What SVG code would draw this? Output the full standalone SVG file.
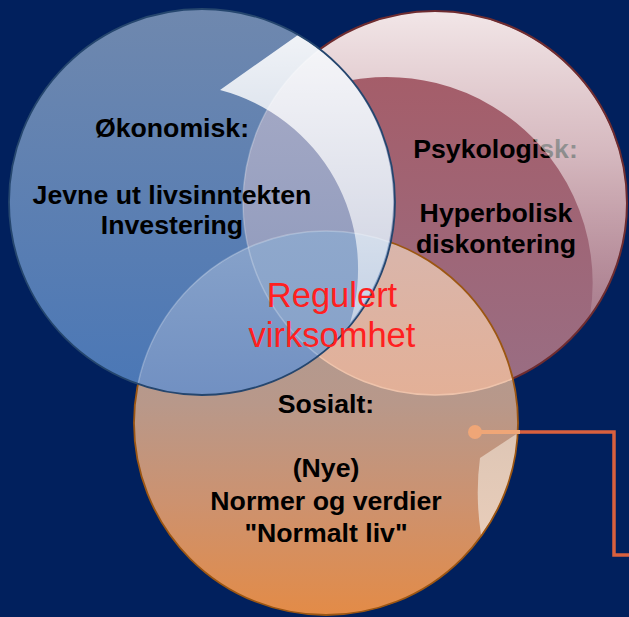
<svg xmlns="http://www.w3.org/2000/svg" width="629" height="617" viewBox="0 0 629 617">
  <defs>
    <style>
      .lbl { font-family: "Liberation Sans", Arial, sans-serif; font-weight: bold; font-size: 26.7px; fill: #000; text-anchor: middle; }
      .ctr { font-family: "Liberation Sans", Arial, sans-serif; font-size: 34.5px; fill: #ff2020; text-anchor: middle; }
    </style>
    <linearGradient id="gBlue" gradientUnits="userSpaceOnUse" x1="0" y1="9" x2="0" y2="396">
      <stop offset="0" stop-color="#6f88ae"/>
      <stop offset="1" stop-color="#4a77b6"/>
    </linearGradient>
    <linearGradient id="gBR" gradientUnits="userSpaceOnUse" x1="0" y1="10" x2="0" y2="396">
      <stop offset="0" stop-color="#abaec8"/>
      <stop offset="1" stop-color="#8794b9"/>
    </linearGradient>
    <linearGradient id="gBO" gradientUnits="userSpaceOnUse" x1="0" y1="231" x2="0" y2="396">
      <stop offset="0" stop-color="#88a3ca"/>
      <stop offset="1" stop-color="#7190c2"/>
    </linearGradient>
    <linearGradient id="gBRO" gradientUnits="userSpaceOnUse" x1="0" y1="231" x2="0" y2="396">
      <stop offset="0" stop-color="#8fa8cc"/>
      <stop offset="1" stop-color="#84a0c8"/>
    </linearGradient>
    <linearGradient id="gRed" gradientUnits="userSpaceOnUse" x1="0" y1="11" x2="0" y2="395">
      <stop offset="0" stop-color="#a75a64"/>
      <stop offset="1" stop-color="#996e84"/>
    </linearGradient>
    <linearGradient id="gRedHi" gradientUnits="userSpaceOnUse" x1="0" y1="11" x2="0" y2="330">
      <stop offset="0" stop-color="#ffffff" stop-opacity="0.85"/>
      <stop offset="0.45" stop-color="#ffffff" stop-opacity="0.55"/>
      <stop offset="0.8" stop-color="#ffffff" stop-opacity="0.25"/>
      <stop offset="1" stop-color="#ffffff" stop-opacity="0.1"/>
    </linearGradient>
    <linearGradient id="gOrange" gradientUnits="userSpaceOnUse" x1="0" y1="231" x2="0" y2="615">
      <stop offset="0" stop-color="#aa9c98"/>
      <stop offset="0.45" stop-color="#b8988a"/>
      <stop offset="0.7" stop-color="#cc9270"/>
      <stop offset="1" stop-color="#e38b47"/>
    </linearGradient>
    <linearGradient id="gRO" gradientUnits="userSpaceOnUse" x1="0" y1="231" x2="0" y2="395">
      <stop offset="0" stop-color="#d8b6ad"/>
      <stop offset="1" stop-color="#e3b097"/>
    </linearGradient>
    <linearGradient id="gBand" gradientUnits="userSpaceOnUse" x1="0" y1="35" x2="0" y2="323">
      <stop offset="0" stop-color="#ffffff" stop-opacity="0.9"/>
      <stop offset="1" stop-color="#ffffff" stop-opacity="0.5"/>
    </linearGradient>
    <linearGradient id="gOBand" gradientUnits="userSpaceOnUse" x1="0" y1="433" x2="0" y2="537">
      <stop offset="0" stop-color="#dec6b5"/>
      <stop offset="1" stop-color="#e8cdba"/>
    </linearGradient>
    <clipPath id="cBlue"><circle cx="202" cy="202" r="193"/></clipPath>
    <clipPath id="cRed"><circle cx="435" cy="203" r="192"/></clipPath>
    <clipPath id="cOrange"><circle cx="326" cy="423" r="192"/></clipPath>
  </defs>

  <rect x="0" y="0" width="629" height="617" fill="#01205d"/>

  <g id="node-psykologisk">
    <circle cx="435" cy="203" r="192" fill="url(#gRed)"/>
    <text class="lbl" x="495.5" y="158">Psykologisk:</text>
    <text class="lbl" x="496" y="222">Hyperbolisk</text>
    <text class="lbl" x="496" y="253">diskontering</text>
    <path d="M262,119 A192,192 0 1 1 590,316 A206,206 0 0 0 262,119 Z" fill="url(#gRedHi)"/>
    <circle cx="435" cy="203" r="192" fill="none" stroke="#6e2c30" stroke-width="2"/>
  </g>

  <g id="node-sosialt">
    <circle cx="326" cy="423" r="192" fill="url(#gOrange)"/>
    <g clip-path="url(#cOrange)">
      <circle cx="435" cy="203" r="192" fill="url(#gRO)"/>
      <circle cx="435" cy="203" r="192" fill="none" stroke="#eec3ab" stroke-width="1.5"/>
    </g>
    <path d="M480,458 L518,433 A192,192 0 0 1 481,535 Q475,495 480,458 Z" fill="url(#gOBand)"/>
    <circle cx="326" cy="423" r="192" fill="none" stroke="#9c5612" stroke-width="1.8"/>
    <text class="lbl" x="326" y="413">Sosialt:</text>
    <text class="lbl" x="326" y="477">(Nye)</text>
    <text class="lbl" x="326" y="510">Normer og verdier</text>
    <text class="lbl" x="326" y="542">"Normalt liv"</text>
  </g>

  <g id="node-okonomisk">
    <circle cx="202" cy="202" r="193" fill="url(#gBlue)"/>
    <g clip-path="url(#cBlue)">
      <circle cx="435" cy="203" r="192" fill="url(#gBR)"/>
      <circle cx="326" cy="423" r="192" fill="url(#gBO)"/>
      <g clip-path="url(#cRed)">
        <circle cx="326" cy="423" r="192" fill="url(#gBRO)"/>
      </g>
      <circle cx="435" cy="203" r="192" fill="none" stroke="#ffffff" stroke-opacity="0.25" stroke-width="1.5"/>
      <circle cx="326" cy="423" r="192" fill="none" stroke="#ffffff" stroke-opacity="0.25" stroke-width="1.5"/>
    </g>
    <path d="M220,90 L298,35 A193,193 0 0 1 350,323 A185,185 0 0 0 220,90 Z" fill="url(#gBand)"/>
    <circle cx="202" cy="202" r="193" fill="none" stroke="#25466e" stroke-width="1.8"/>
    <text class="lbl" x="172" y="137">Økonomisk:</text>
    <text class="lbl" x="172" y="204">Jevne ut livsinntekten</text>
    <text class="lbl" x="172" y="234">Investering</text>
  </g>

  <g id="node-center">
    <text class="ctr" x="332" y="307">Regulert</text>
    <text class="ctr" x="332" y="347">virksomhet</text>
  </g>

  <g id="connectors">
    <line x1="475" y1="432" x2="520" y2="432" stroke="#efa677" stroke-width="4"/>
    <circle cx="475" cy="432" r="7" fill="#efa677"/>
    <polyline points="520,432 614,432 614,555 629,555" fill="none" stroke="#d9603e" stroke-width="3.5"/>
  </g>
</svg>
